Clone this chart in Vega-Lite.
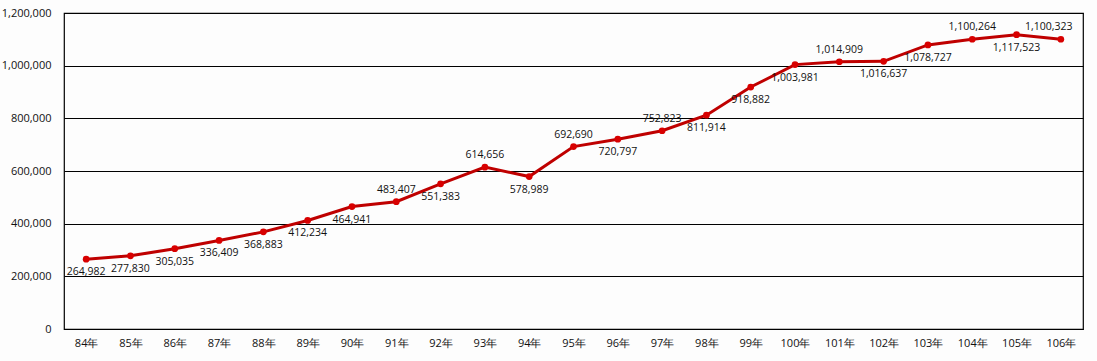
{
  "$schema": "https://vega.github.io/schema/vega-lite/v6.json",
  "autosize": "none",
  "width": 1019,
  "height": 316,
  "padding": {"left": 64, "top": 13, "right": 14, "bottom": 32},
  "background": "#fdfdfd",
  "config": {
    "view": {"stroke": "#000000", "strokeWidth": 1.2},
    "font": "Open Sans"
  },
  "data": {
    "values": [
      {"year": "84年", "value": 264982},
      {"year": "85年", "value": 277830},
      {"year": "86年", "value": 305035},
      {"year": "87年", "value": 336409},
      {"year": "88年", "value": 368883},
      {"year": "89年", "value": 412234},
      {"year": "90年", "value": 464941},
      {"year": "91年", "value": 483407},
      {"year": "92年", "value": 551383},
      {"year": "93年", "value": 614656},
      {"year": "94年", "value": 578989},
      {"year": "95年", "value": 692690},
      {"year": "96年", "value": 720797},
      {"year": "97年", "value": 752823},
      {"year": "98年", "value": 811914},
      {"year": "99年", "value": 918882},
      {"year": "100年", "value": 1003981},
      {"year": "101年", "value": 1014909},
      {"year": "102年", "value": 1016637},
      {"year": "103年", "value": 1078727},
      {"year": "104年", "value": 1100264},
      {"year": "105年", "value": 1117523},
      {"year": "106年", "value": 1100323}
    ]
  },
  "encoding": {
    "x": {
      "field": "year", "type": "ordinal", "sort": null,
      "scale": {"type": "point", "padding": 0.5},
      "axis": {
        "title": null, "labelAngle": 0, "ticks": false, "domain": false,
        "labelPadding": 8, "labelFontSize": 11, "labelColor": "#111111", "labelFont": "Open Sans"
      }
    },
    "y": {
      "field": "value", "type": "quantitative",
      "scale": {"domain": [0, 1200000], "nice": false},
      "axis": {
        "title": null, "values": [0, 200000, 400000, 600000, 800000, 1000000, 1200000],
        "format": ",.0f", "ticks": false, "domain": false, "grid": true,
        "gridColor": "#000000", "gridOpacity": 1, "gridWidth": 1.2,
        "labelPadding": 13, "labelFontSize": 11, "labelColor": "#111111", "labelFont": "Open Sans"
      }
    }
  },
  "layer": [
    {
      "mark": {"type": "line", "color": "#BF0000", "strokeWidth": 3},
      "encoding": {}
    },
    {
      "mark": {"type": "point", "filled": true, "color": "#D80000", "size": 45, "opacity": 1},
      "encoding": {}
    },
    {
      "transform": [{"filter": {"field": "year", "oneOf": ["91年", "93年", "95年", "97年", "101年", "104年"]}}],
      "mark": {"type": "text", "dy": -12, "fontSize": 10.5, "color": "#111111"},
      "encoding": {"text": {"field": "value", "type": "quantitative", "format": ",.0f"}}
    },
    {
      "transform": [{"filter": {"field": "year", "equal": "106年"}}],
      "mark": {"type": "text", "dy": -12, "dx": -12, "fontSize": 10.5, "color": "#111111"},
      "encoding": {"text": {"field": "value", "type": "quantitative", "format": ",.0f"}}
    },
    {
      "transform": [{"filter": {"not": {"field": "year", "oneOf": ["91年", "93年", "95年", "97年", "101年", "104年", "106年"]}}}],
      "mark": {"type": "text", "dy": 13, "fontSize": 10.5, "color": "#111111"},
      "encoding": {"text": {"field": "value", "type": "quantitative", "format": ",.0f"}}
    }
  ]
}
